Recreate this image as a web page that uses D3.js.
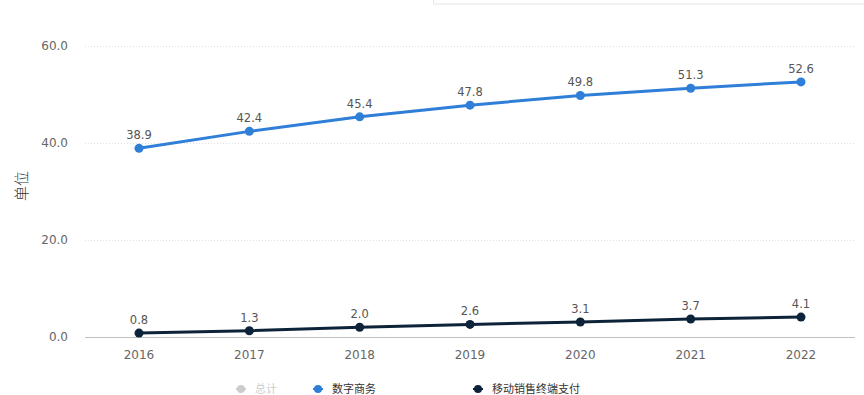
<!DOCTYPE html>
<html>
<head>
<meta charset="utf-8">
<script src="https://cdn.jsdelivr.net/npm/d3@7"></script>
<style>
  body { margin: 0; background: #fff; }
  svg { font-family: "DejaVu Sans", "Noto Sans CJK SC", sans-serif; }
</style>
</head>
<body>
<div id="chart"></div>
<script>
'use strict';

var years = [2016, 2017, 2018, 2019, 2020, 2021, 2022];
var digital = [38.9, 42.4, 45.4, 47.8, 49.8, 51.3, 52.6];
var mobilePos = [0.8, 1.3, 2.0, 2.6, 3.1, 3.7, 4.1];
var yTicks = [0, 20, 40, 60];
var legendNames = ['总计', '数字商务', '移动销售终端支付'];
var legendColors = ['#cccccc', '#2f7ed8', '#0d233a'];

var width = 864, height = 395;

var svg = d3.select('#chart').append('svg')
    .attr('width', width)
    .attr('height', height);

// faint box edge at top right
svg.append('rect')
    .attr('x', 433.5).attr('y', -10)
    .attr('width', 440).attr('height', 14)
    .attr('fill', 'none')
    .attr('stroke', '#e6e6e6');

var x = d3.scalePoint()
    .domain(years)
    .range([139, 801]);

var y = d3.scaleLinear()
    .domain([0, 60])
    .range([337, 46]);

// gridlines
svg.selectAll('.grid')
    .data(yTicks.filter(function(d) { return d > 0; }))
    .enter().append('line')
    .attr('x1', 85).attr('x2', 855)
    .attr('y1', function(d) { return Math.round(y(d)) + 0.5; })
    .attr('y2', function(d) { return Math.round(y(d)) + 0.5; })
    .attr('stroke', '#e0e0e0')
    .attr('stroke-dasharray', '1,2');

// x axis line
svg.append('line')
    .attr('x1', 85).attr('x2', 855)
    .attr('y1', y(0) + 0.5).attr('y2', y(0) + 0.5)
    .attr('stroke', '#c0c0c0');

// y tick labels
svg.selectAll('.ytick')
    .data(yTicks)
    .enter().append('text')
    .attr('x', 68)
    .attr('y', function(d) { return y(d) + 4; })
    .attr('text-anchor', 'end')
    .attr('font-size', 12)
    .attr('fill', '#666')
    .text(function(d) { return d.toFixed(1); });

// x tick labels
svg.selectAll('.xtick')
    .data(years)
    .enter().append('text')
    .attr('x', function(d) { return x(d); })
    .attr('y', 359)
    .attr('text-anchor', 'middle')
    .attr('font-size', 12)
    .attr('fill', '#666')
    .text(function(d) { return d; });

// y axis title
svg.append('text')
    .attr('transform', 'translate(27,186) rotate(-90)')
    .attr('text-anchor', 'middle')
    .attr('font-family', '"Noto Sans CJK SC", sans-serif')
    .attr('font-weight', 300)
    .attr('font-size', 15)
    .attr('fill', '#333')
    .text('单位');

var line = d3.line()
    .x(function(d, i) { return x(years[i]); })
    .y(function(d) { return y(d); });

function drawSeries(values, color) {
  var g = svg.append('g');
  g.append('path')
      .datum(values)
      .attr('d', line)
      .attr('fill', 'none')
      .attr('stroke', color)
      .attr('stroke-width', 3);
  g.selectAll('circle')
      .data(values)
      .enter().append('circle')
      .attr('cx', function(d, i) { return x(years[i]); })
      .attr('cy', function(d) { return y(d); })
      .attr('r', 4.5)
      .attr('fill', color);
  g.selectAll('text')
      .data(values)
      .enter().append('text')
      .attr('x', function(d, i) { return x(years[i]); })
      .attr('y', function(d) { return y(d) - 9; })
      .attr('text-anchor', 'middle')
      .attr('font-size', 11.5)
      .attr('fill', '#555')
      .text(function(d) { return d.toFixed(1); });
}

drawSeries(digital, legendColors[1]);
drawSeries(mobilePos, legendColors[2]);

// legend
var legendX = [241, 318, 478];
var leg = svg.selectAll('.leg')
    .data(legendNames)
    .enter().append('g')
    .attr('transform', function(d, i) { return 'translate(' + legendX[i] + ',389)'; });
leg.append('line')
    .attr('x1', -5).attr('x2', 5)
    .attr('stroke', function(d, i) { return legendColors[i]; })
    .attr('stroke-width', 2);
leg.append('circle')
    .attr('r', 4)
    .attr('fill', function(d, i) { return legendColors[i]; });
leg.append('text')
    .attr('x', 14)
    .attr('y', 4)
    .attr('font-size', 11)
    .attr('fill', function(d, i) { return i === 0 ? '#cccccc' : '#333'; })
    .text(function(d) { return d; });
</script>
</body>
</html>
